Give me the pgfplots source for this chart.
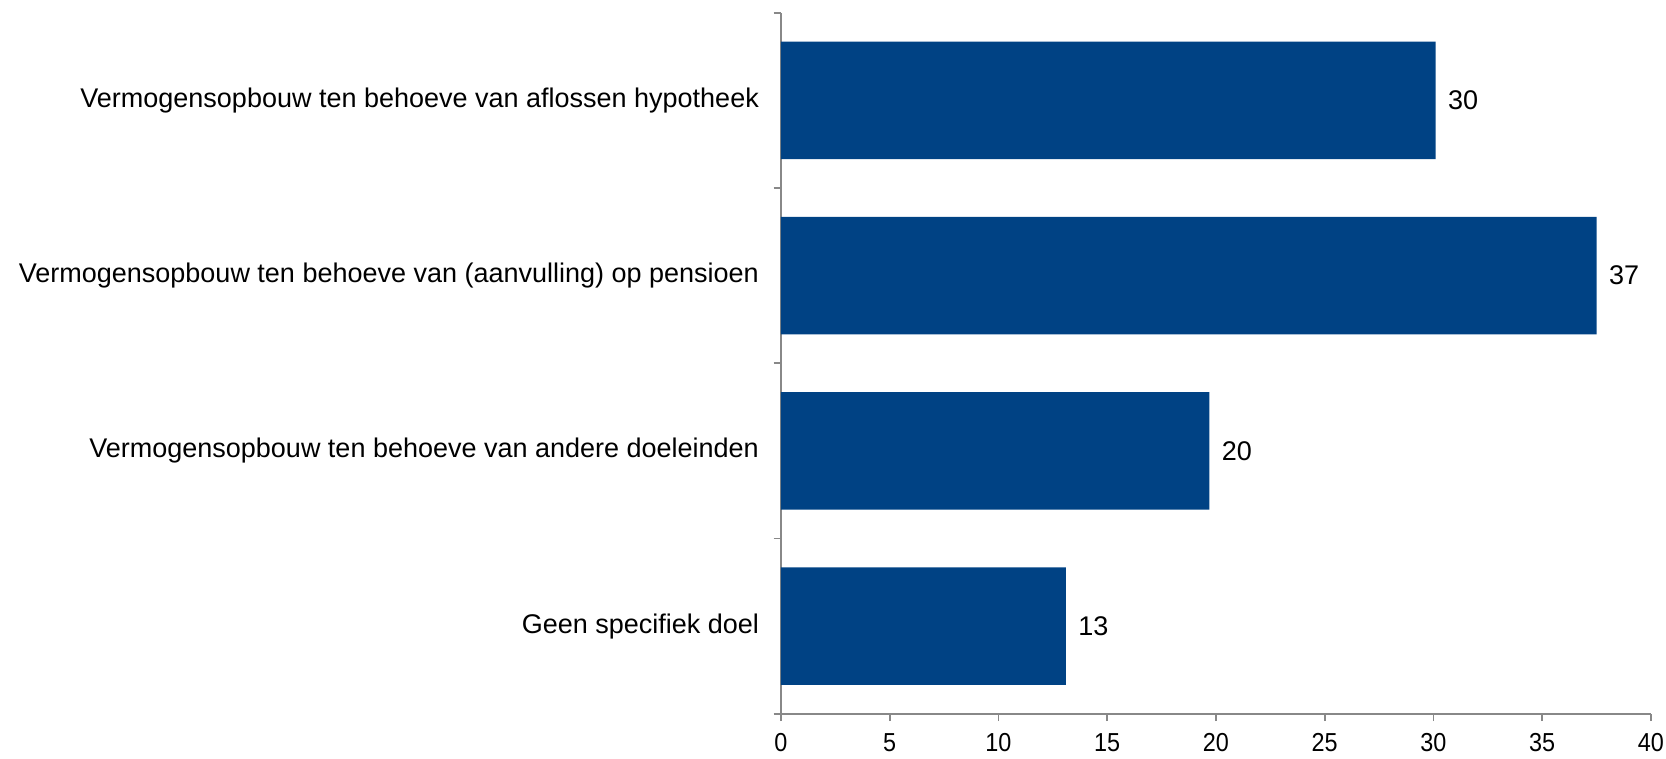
\documentclass[border=0pt]{standalone}
\usepackage{pgfplots}
\pgfplotsset{compat=1.18}
\usepackage{fontspec}
\setmainfont{Liberation Sans}
\definecolor{barblue}{RGB}{0,66,132}
\definecolor{axgrey}{RGB}{136,136,136}
\begin{document}
\begin{tikzpicture}
\begin{axis}[
  scale only axis,
  width=435pt, height=350.5pt,
  xbar, bar width=0.67,
  xmin=0, xmax=40,
  ymin=-0.5, ymax=3.5,
  xtick={0,5,...,40},
  ytick={0,1,2,3},
  yticklabels={Geen specifiek doel,
    Vermogensopbouw ten behoeve van andere doeleinden,
    Vermogensopbouw ten behoeve van (aanvulling) op pensioen,
    Vermogensopbouw ten behoeve van aflossen hypotheek},
  minor ytick={-0.5,0.5,1.5,2.5,3.5},
  axis x line*=bottom, axis y line*=left,
  axis line style={axgrey, line width=0.8pt},
  every tick/.style={axgrey, line width=0.8pt},
  tick align=outside,
  major tick length=3.7pt, minor tick length=3.7pt,
  every major y tick/.append style={draw=none},
  every minor y tick/.append style={axgrey, line width=0.8pt},
  yticklabel style={font=\fontsize{13.5}{16}\selectfont, xshift=-3.8pt},
  xticklabel style={font=\fontsize{13}{15}\selectfont, yshift=-2.6pt},
  xticklabel={\scalebox{0.9}[1]{\pgfmathprintnumber{\tick}}},
  /pgf/number format/assume math mode=true,
  point meta=explicit symbolic,
  nodes near coords,
  nodes near coords style={font=\fontsize{13.5}{16}\selectfont, anchor=west, xshift=2.7pt, black},
  clip=false,
]
\addplot[fill=barblue, draw=none] table[meta=lab] {
x y lab
13.1 0 13
19.7 1 20
37.5 2 37
30.1 3 30
};
\coordinate (bl) at (rel axis cs:0,0);
\coordinate (tr) at (rel axis cs:1,1);
\end{axis}
\pgfresetboundingbox
\path ([xshift=-390.5pt,yshift=-22.5pt]bl) rectangle ([xshift=7.5pt,yshift=6.4pt]tr);
\end{tikzpicture}
\end{document}
